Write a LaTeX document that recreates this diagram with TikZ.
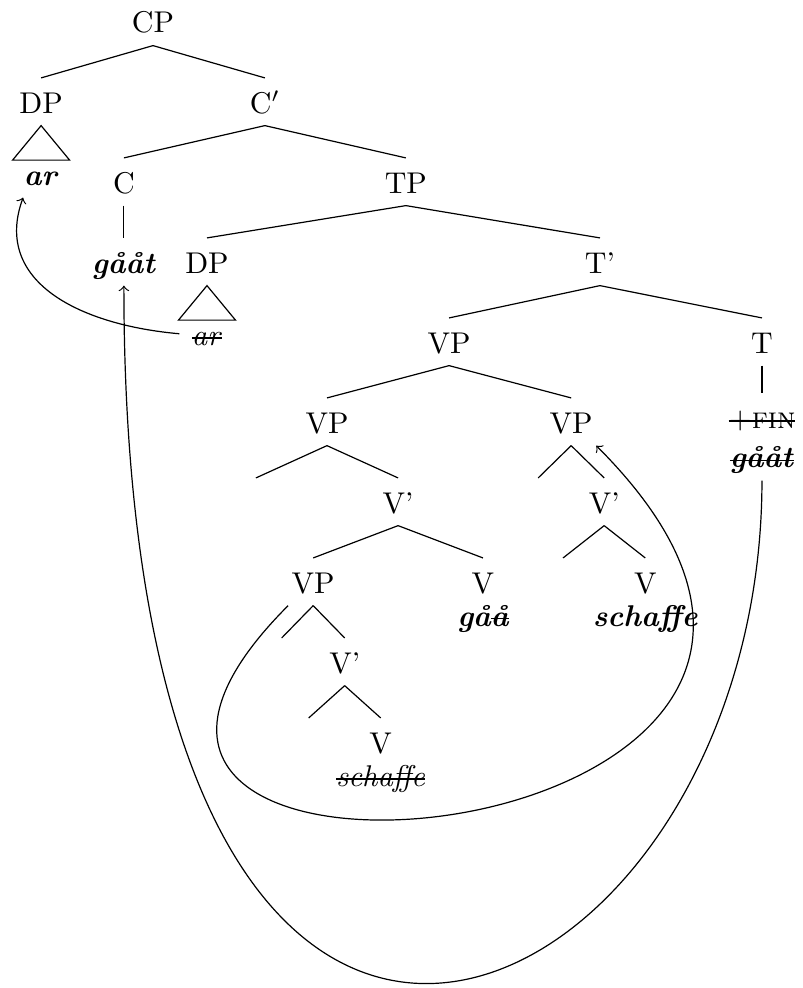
\documentclass[tikz,border=0pt]{standalone}
\usepackage{tikz}

\newsavebox{\tracebox}
\newcommand{\trace}[1]{\sbox{\tracebox}{#1}\rlap{\rule[0.5ex]{\wd\tracebox}{0.4pt}}\usebox{\tracebox}}
\newcommand{\word}[1]{\textbf{\textit{#1}}}

\begin{document}
\begin{tikzpicture}[node distance=26.67pt]
    \tikzstyle{every node}=[text height=7.5pt, text depth=0pt, inner sep=4pt]
    \useasboundingbox (-51pt,7.25pt) rectangle (216.67pt,-322.1pt);

    \node (cp) {CP};
    \node (dp1) [below of=cp, xshift=-37.3pt] {DP};
    \node (cbar) [below of=cp, xshift=37.3pt] {C$'$};
    \node (ar1) [node distance=24pt, below of=dp1] {\word{ar}};
    \node (c) [below of=cbar, xshift=-47pt] {C};
    \node (tp) [below of=cbar, xshift=47pt] {TP};
    \node (gaat1) [below of=c] {\word{gååt}};
    \node (dp2) [below of=tp, xshift=-66.3pt] {DP};
    \node (tbar) [below of=tp, xshift=64.7pt] {T'};
    \node (ar2) [node distance=24pt, below of=dp2] {\trace{\textit{ar}}};
    \node (vp1) [below of=tbar, xshift=-50.3pt] {VP};
    \node (t) [below of=tbar, xshift=54pt] {T};
    \node (fin) [node distance=25pt, below of=t] {\trace{+\textsc{fin}}};
    \node (gaat2) [node distance=13.3pt, below of=fin] {\trace{\word{gååt}}};
    \node (vp2) [below of=vp1, xshift=-40.7pt] {VP};
    \node (vp3) [below of=vp1, xshift=40.7pt] {VP};
    \node (e1) [below of=vp2, xshift=-23.7pt] {};
    \node (vbar1) [below of=vp2, xshift=23.7pt] {V'};
    \node (e2) [below of=vp3, xshift=-11pt] {};
    \node (vbar2) [below of=vp3, xshift=11pt] {V'};
    \node (vp4) [below of=vbar1, xshift=-28.3pt] {VP};
    \node (v1) [below of=vbar1, xshift=28.3pt] {V};
    \node (gaa) [node distance=11pt, below of=v1] {\word{gå\trace{å}}};
    \node (e3) [below of=vbar2, xshift=-13.7pt] {};
    \node (v2) [below of=vbar2, xshift=13.7pt] {V};
    \node (schaffe1) [node distance=11pt, below of=v2] {\word{schaffe}};
    \node (e4) [below of=vp4, xshift=-10.5pt] {};
    \node (vbar3) [below of=vp4, xshift=10.5pt] {V'};
    \node (e5) [below of=vbar3, xshift=-12pt] {};
    \node (v3) [below of=vbar3, xshift=12pt] {V};
    \node (schaffe2) [node distance=11pt, below of=v3] {\trace{\textit{schaffe}}};

    \path (cp.south) edge (dp1.north)
          (cp.south) edge (cbar.north)
          (cbar.south) edge (c.north)
          (cbar.south) edge (tp.north)
          (c.south) edge (gaat1.north)
          (tp.south) edge (dp2.north)
          (tp.south) edge (tbar.north)
          (tbar.south) edge (vp1.north)
          (tbar.south) edge (t.north)
          (t.south) edge (fin.north)
          (vp1.south) edge (vp2.north)
          (vp1.south) edge (vp3.north)
          (vp2.south) edge (e1.north)
          (vp2.south) edge (vbar1.north)
          (vp3.south) edge (e2.north)
          (vp3.south) edge (vbar2.north)
          (vbar1.south) edge (vp4.north)
          (vbar1.south) edge (v1.north)
          (vbar2.south) edge (e3.north)
          (vbar2.south) edge (v2.north)
          (vp4.south) edge (e4.north)
          (vp4.south) edge (vbar3.north)
          (vbar3.south) edge (e5.north)
          (vbar3.south) edge (v3.north);

    % roofs over the two DPs
    \draw (dp1.south) -- ++(-9.5pt,-11.5pt) -- ++(19pt,0pt) -- cycle;
    \draw (dp2.south) -- ++(-9.5pt,-11.5pt) -- ++(19pt,0pt) -- cycle;

    % movement arrows
    \draw[->] (ar2.west) .. controls +(175:33pt) and +(250:30pt) .. ([xshift=-6pt]ar1.south);
    \draw[->] (gaat2.south) .. controls +(270:183pt) and +(270:350pt) .. (gaat1.south);
    \draw[->] ([xshift=3pt]vp4.south west) .. controls +(225:165pt) and +(315:195pt) .. ([xshift=-3pt]vp3.south east);
\end{tikzpicture}
\end{document}
